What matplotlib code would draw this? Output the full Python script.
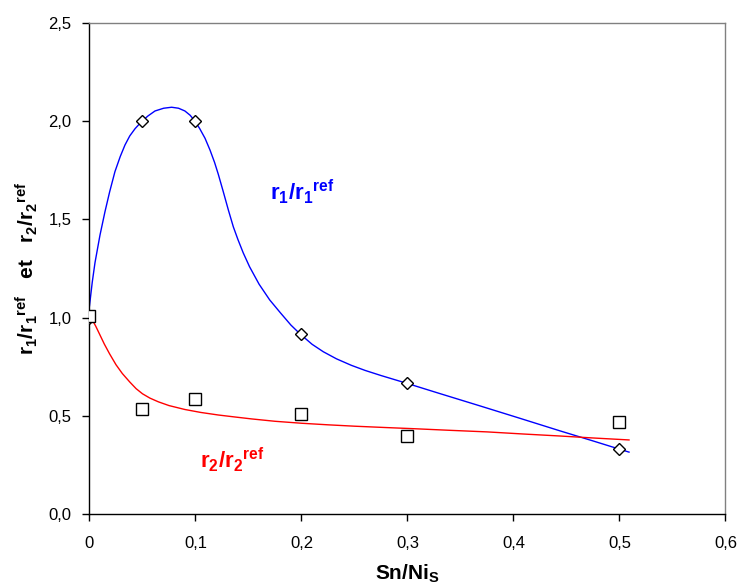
import matplotlib
matplotlib.use("Agg")
import matplotlib.pyplot as plt
from matplotlib.ticker import FuncFormatter, MultipleLocator

plt.rcParams['font.family'] = ['Liberation Sans', 'DejaVu Sans']
plt.rcParams['mathtext.fontset'] = 'custom'
plt.rcParams['mathtext.rm'] = 'Liberation Sans'
plt.rcParams['mathtext.bf'] = 'Liberation Sans:bold'
plt.rcParams['mathtext.it'] = 'Liberation Sans:italic'

# measured points
sn_ni = [0.0, 0.05, 0.1, 0.2, 0.3, 0.5]
r1_ratio = [1.0, 2.0, 2.0, 0.917, 0.667, 0.333]
r2_ratio = [1.01, 0.536, 0.584, 0.511, 0.397, 0.468]

# fitted curves
fit1_x = [0.000, 0.0026, 0.0052, 0.0099, 0.0146, 0.019, 0.024, 0.029, 0.0335, 0.038,
          0.043, 0.049, 0.055, 0.0618, 0.070, 0.0775, 0.084, 0.090, 0.095, 0.0995,
          0.104, 0.109, 0.1137, 0.118, 0.1215, 0.126, 0.131, 0.1357, 0.140, 0.145,
          0.151, 0.160, 0.170, 0.180, 0.190, 0.1986, 0.210, 0.2206, 0.233, 0.247,
          0.260, 0.275, 0.299, 0.330, 0.368, 0.405, 0.444, 0.475, 0.509]
fit1_y = [1.06, 1.18, 1.28, 1.42, 1.539, 1.64, 1.743, 1.82, 1.879, 1.925,
          1.962, 1.997, 2.026, 2.052, 2.066, 2.071, 2.066, 2.052, 2.03, 2.0,
          1.962, 1.913, 1.853, 1.79, 1.73, 1.645, 1.548, 1.462, 1.398, 1.33,
          1.259, 1.17, 1.09, 1.025, 0.962, 0.917, 0.864, 0.826, 0.790, 0.757,
          0.731, 0.705, 0.666, 0.614, 0.551, 0.489, 0.423, 0.372, 0.315]
fit2_x = [0.000, 0.003, 0.006, 0.010, 0.014, 0.019, 0.025, 0.031, 0.038, 0.044,
          0.050, 0.057, 0.065, 0.075, 0.090, 0.105, 0.1215, 0.137, 0.153, 0.175,
          0.200, 0.225, 0.250, 0.280, 0.307, 0.340, 0.375, 0.410, 0.444, 0.475, 0.509]
fit2_y = [1.01, 0.985, 0.955, 0.91, 0.865, 0.815, 0.76, 0.715, 0.672, 0.638,
          0.612, 0.59, 0.571, 0.552, 0.532, 0.517, 0.504, 0.494, 0.484, 0.472,
          0.462, 0.454, 0.447, 0.440, 0.434, 0.426, 0.418, 0.407, 0.397, 0.387, 0.377]

fig = plt.figure(figsize=(7.39, 5.85), dpi=100)
ax = fig.add_axes([0.1211, 0.1214, 0.9817 - 0.1211, 0.9607 - 0.1214])

ax.plot(fit1_x, fit1_y, color='#0000ff', lw=1.0, zorder=2, solid_joinstyle='round')
ax.plot(fit2_x, fit2_y, color='#ff0000', lw=1.0, zorder=2, solid_joinstyle='round')
ax.plot(sn_ni, r1_ratio, linestyle='none', marker='D', ms=6.5, mfc='white',
        mec='black', mew=1.0, zorder=3)
ax.plot(sn_ni, r2_ratio, linestyle='none', marker='s', ms=8, mfc='white',
        mec='black', mew=1.0, zorder=4)

ax.set_xlim(0, 0.6)
ax.set_ylim(0, 2.5)
ax.xaxis.set_major_locator(MultipleLocator(0.1))
ax.yaxis.set_major_locator(MultipleLocator(0.5))

def fmt_x(v, p):
    if abs(v) < 1e-9:
        return '0'
    return f'{v:.1f}'.replace('.', ',')

def fmt_y(v, p):
    return f'{v:.1f}'.replace('.', ',')

ax.xaxis.set_major_formatter(FuncFormatter(fmt_x))
ax.yaxis.set_major_formatter(FuncFormatter(fmt_y))
ax.tick_params(direction='out', length=5, width=1, labelsize=12, color='black', pad=8)
ax.tick_params(axis='x', pad=11)

for s in ['left', 'bottom']:
    ax.spines[s].set_color('black')
    ax.spines[s].set_linewidth(1.0)
for s in ['top', 'right']:
    ax.spines[s].set_color('#808080')
    ax.spines[s].set_linewidth(1.0)

ax.set_xlabel(r'$\mathbf{Sn/Ni_S}$', fontsize=15, labelpad=8)
ax.set_ylabel(r'$\mathbf{r_1/r_1{}^{ref}}$   $\mathbf{et}$   $\mathbf{r_2/r_2{}^{ref}}$',
              fontsize=15, labelpad=6)

ax.text(0.170, 1.60, r'$\mathbf{r_1/r_1{}^{ref}}$', color='#0000ff', fontsize=16)
ax.text(0.104, 0.235, r'$\mathbf{r_2/r_2{}^{ref}}$', color='#ff0000', fontsize=16)

fig.savefig('out.png', dpi=100)
